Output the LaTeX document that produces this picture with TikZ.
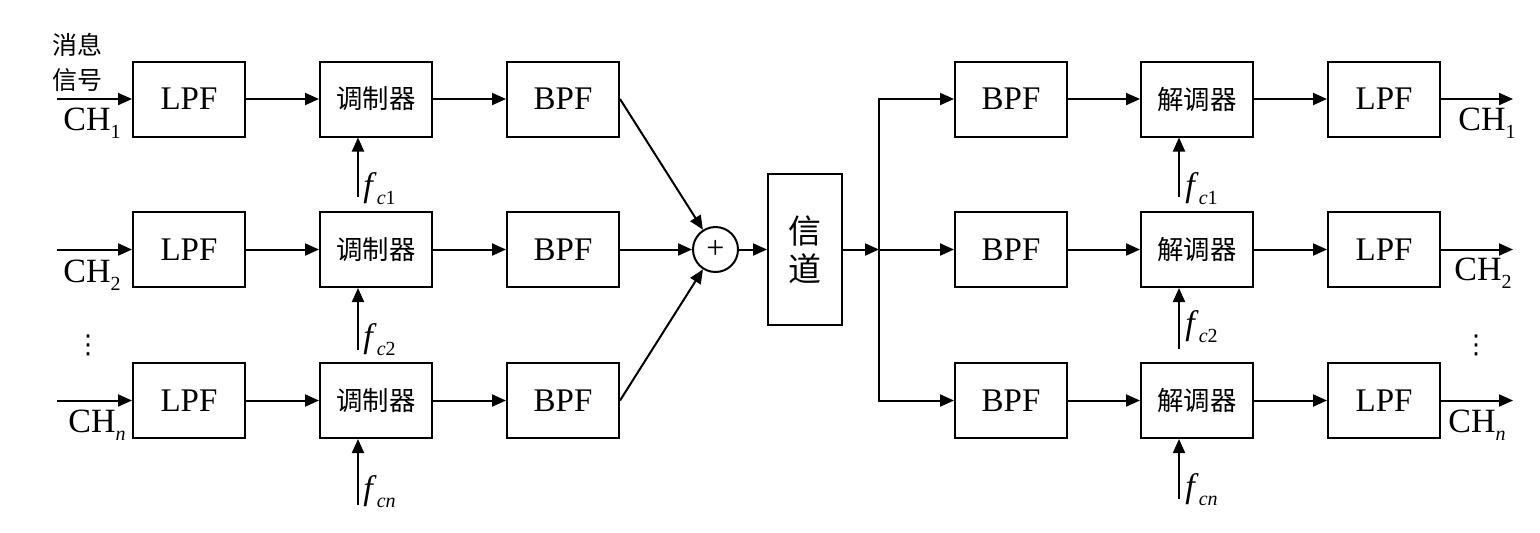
\documentclass[tikz,border=0pt]{standalone}
\usepackage{fontspec}
\setmainfont{Liberation Serif}
\newfontfamily\cjk{Noto Sans CJK SC}
\newfontfamily\dejavu{DejaVu Sans}
\usetikzlibrary{arrows.meta}
\begin{document}
\begin{tikzpicture}[x=0.5pt,y=-0.5pt,
  blk/.style={draw,line width=1pt,minimum width=56pt,minimum height=37.5pt,inner sep=0pt,font=\fontsize{16.5}{16.5}\selectfont},
  cblk/.style={blk,font=\cjk\fontsize{13.2}{13.2}\selectfont},
  arr/.style={line width=1pt,-{Triangle[length=7pt,width=6pt]}},
  lab/.style={anchor=base west,inner sep=0pt,font=\fontsize{17}{17}\selectfont}]
\useasboundingbox (0,0) rectangle (1540,532);
\newcommand{\sbs}[1]{\raisebox{-4pt}{\fontsize{10}{10}\selectfont #1}}
\foreach \r/\y in {1/99,2/249.5,3/400.5}{
  \node[blk] (l\r) at (189,\y) {LPF};
  \node[cblk] (m\r) at (376,\y) {调制器};
  \node[blk] (b\r) at (563,\y) {BPF};
  \node[blk] (rb\r) at (1011,\y) {BPF};
  \node[cblk] (d\r) at (1197,\y) {解调器};
  \node[blk] (rl\r) at (1384,\y) {LPF};
  \coordinate (i\r) at (57,\y);
  \coordinate (o\r) at (1513,\y);
  \draw[arr] (i\r) -- (l\r);
  \draw[arr] (l\r) -- (m\r);
  \draw[arr] (m\r) -- (b\r);
  \draw[arr] (rb\r) -- (d\r);
  \draw[arr] (d\r) -- (rl\r);
  \draw[arr] (rl\r) -- (o\r);
}
\node[draw,circle,line width=1pt,minimum size=22.5pt,inner sep=0pt,font=\fontsize{16}{16}\selectfont] (sum) at (715.5,249.5) {+};
\node[draw,line width=1pt,minimum width=37pt,minimum height=75.5pt,inner sep=0pt,align=center,font=\cjk\fontsize{16.5}{19}\selectfont] (ch) at (805,249.5) {信\\道};
\coordinate (J) at (879,249.5);
\draw[arr] (b1.east) -- (sum);
\draw[arr] (b2) -- (sum);
\draw[arr] (b3.east) -- (sum);
\draw[arr] (sum) -- (ch);
\draw[arr] (ch) -- (J);
\draw[arr] (J) -- (rb2);
\draw[arr] (J) |- (rb1);
\draw[arr] (J) |- (rb3);
\coordinate (fa1) at (358,197);
\coordinate (fa2) at (358,350);
\coordinate (fa3) at (358,505);
\coordinate (fb1) at (1179,197);
\coordinate (fb2) at (1179,349);
\coordinate (fb3) at (1179,499);
\draw[arr] (fa1) -- (fa1 |- m1.south);
\draw[arr] (fa2) -- (fa2 |- m2.south);
\draw[arr] (fa3) -- (fa3 |- m3.south);
\draw[arr] (fb1) -- (fb1 |- d1.south);
\draw[arr] (fb2) -- (fb2 |- d2.south);
\draw[arr] (fb3) -- (fb3 |- d3.south);
\node[lab] (fla) at (363,196) {\textit{f}\sbs{\textit{c}1}};
\node[lab] (flb) at (363,347) {\textit{f}\sbs{\textit{c}2}};
\node[lab] (flc) at (363,499) {\textit{f}\sbs{\textit{cn}}};
\node[lab] (fra) at (1185,196) {\textit{f}\sbs{\textit{c}1}};
\node[lab] (frb) at (1185,334) {\textit{f}\sbs{\textit{c}2}};
\node[lab] (frc) at (1185,497) {\textit{f}\sbs{\textit{cn}}};
\node[lab] (ci1) at (63,130) {CH\sbs{1}};
\node[lab] (ci2) at (63,282) {CH\sbs{2}};
\node[lab] (ci3) at (68,432) {CH\sbs{\textit{n}}};
\node[lab] (co1) at (1458,130) {CH\sbs{1}};
\node[lab] (co2) at (1454,280) {CH\sbs{2}};
\node[lab] (co3) at (1448,432) {CH\sbs{\textit{n}}};
\node[font=\cjk\fontsize{12.5}{17.5}\selectfont,align=left,inner sep=0pt] (msg) at (77.5,62.5) {消息\\信号};
\node[inner sep=0pt,font=\dejavu\fontsize{13}{13}\selectfont] (dl) at (88,345) {⋮};
\node[inner sep=0pt,font=\dejavu\fontsize{13}{13}\selectfont] (dr) at (1476,345) {⋮};
\end{tikzpicture}
\end{document}
